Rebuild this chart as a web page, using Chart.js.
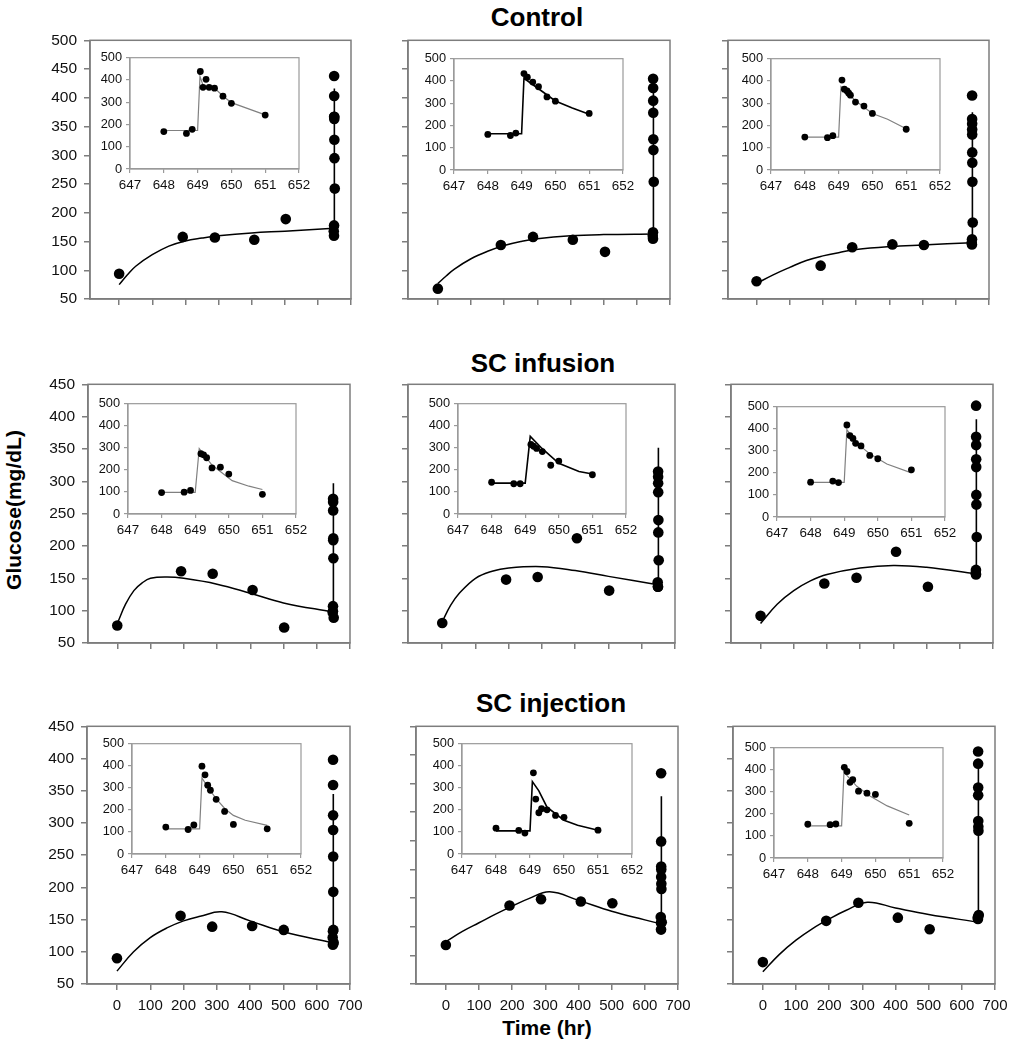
<!DOCTYPE html>
<html>
<head>
<meta charset="utf-8">
<title>Glucose profiles</title>
<script src="https://cdn.jsdelivr.net/npm/chart.js@4.4.1/dist/chart.umd.min.js"></script>
<style>
    body { margin: 0; background: #fff; }
    #page { position: relative; width: 1021px; height: 1050px; overflow: hidden; font-family: "Liberation Sans", Arial, sans-serif; color: #000; }
    #page canvas { position: absolute; }
    .title { position: absolute; font-weight: bold; font-size: 26px; transform: translate(-50%, -50%); white-space: nowrap; }
    .axis-title { position: absolute; font-weight: bold; font-size: 21px; white-space: nowrap; transform: translate(-50%, -50%); }
    .axis-title.vert { transform: translate(-50%, -50%) rotate(-90deg); }
</style>
</head>
<body>
<div id="page">
    <div class="title" style="left:537px; top:17px;">Control</div>
    <div class="title" style="left:543px; top:363px;">SC infusion</div>
    <div class="title" style="left:551px; top:703px;">SC injection</div>
    <div class="axis-title vert" style="left:14px; top:510px;">Glucose(mg/dL)</div>
    <div class="axis-title" style="left:547px; top:1028px;">Time (hr)</div>
</div>
<script>
// tick labels
const mainXTicks = [0, 100, 200, 300, 400, 500, 600, 700];
const insetXTicks = [647, 648, 649, 650, 651, 652];
const insetYTicks = [0, 100, 200, 300, 400, 500];
const yTicks500 = [50, 100, 150, 200, 250, 300, 350, 400, 450, 500];
const yTicks450 = [50, 100, 150, 200, 250, 300, 350, 400, 450];
const yTicks0to450 = [0, 50, 100, 150, 200, 250, 300, 350, 400, 450];

// ---- Control ----
const p1ObsT = [0, 192, 289, 408, 503];
const p1ObsG = [94, 158, 157, 153, 189];
const p1CurveT = [0, 25, 50, 100, 150, 200, 250, 300, 400, 500];
const p1CurveG = [75, 92, 107, 127, 142, 151, 156, 160, 165, 168];
const p1SpikeT = [648, 649, 649.07, 649.17, 649.5, 649.75, 650, 651];
const p1SpikeG = [173, 173, 416, 372, 364, 328, 298, 243];
const p1InsetT = [648, 648.67, 648.84, 649.08, 649.16, 649.25, 649.34, 649.5, 649.75, 650, 651];
const p1InsetG = [168, 160, 178, 438, 367, 403, 367, 363, 327, 295, 242];

const p2ObsT = [0, 190, 287, 407, 504];
const p2ObsG = [68, 144, 158, 153, 132];
const p2CurveT = [0, 25, 50, 100, 150, 200, 250, 300, 400, 500];
const p2CurveG = [77, 90, 102, 120, 133, 143, 150, 155, 160, 162];
const p2SpikeT = [648, 649, 649.07, 649.5, 650, 650.5, 651];
const p2SpikeG = [163, 163, 412, 365, 310, 278, 250];
const p2InsetT = [648, 648.67, 648.83, 649.07, 649.17, 649.33, 649.5, 649.75, 650, 651];
const p2InsetG = [160, 155, 166, 433, 417, 395, 374, 328, 309, 254];

const p3ObsT = [0, 193, 288, 409, 504];
const p3ObsG = [81, 108, 140, 145, 144];
const p3CurveT = [0, 50, 100, 150, 200, 250, 300, 400, 500];
const p3CurveG = [77, 92, 105, 117, 125, 131, 136, 141, 144];
const p3SpikeT = [648, 649, 649.07, 649.5, 650, 650.45, 651];
const p3SpikeG = [148, 148, 375, 311, 254, 228, 185];
const p3InsetT = [648, 648.67, 648.83, 649.1, 649.17, 649.25, 649.3, 649.35, 649.5, 649.75, 650, 651];
const p3InsetG = [148, 145, 154, 404, 363, 355, 345, 336, 305, 287, 254, 183];

// ---- SC infusion ----
const p4ObsT = [0, 192, 287, 407, 502];
const p4ObsG = [77, 161, 157, 132, 74];
const p4CurveT = [0, 25, 50, 75, 100, 150, 200, 300, 400, 500];
const p4CurveG = [80, 110, 131, 143, 150, 152, 150, 141, 127, 112];
const p4SpikeT = [648, 649, 649.12, 649.5, 650.1, 650.6, 651];
const p4SpikeG = [98, 98, 297, 222, 151, 126, 111];
const p4InsetT = [648, 648.67, 648.86, 649.17, 649.25, 649.34, 649.5, 649.75, 650, 651];
const p4InsetG = [97, 99, 107, 273, 268, 255, 209, 212, 181, 89];

const p5ObsT = [0, 192, 287, 405, 502];
const p5ObsG = [81, 148, 152, 212, 131];
const p5CurveT = [0, 25, 50, 100, 150, 200, 300, 400, 500];
const p5CurveG = [83, 108, 126, 150, 161, 166, 168, 162, 153];
const p5SpikeT = [648, 649, 649.15, 649.5, 650, 650.6, 651];
const p5SpikeG = [140, 140, 352, 297, 230, 193, 181];
const p5InsetT = [648, 648.66, 648.85, 649.17, 649.25, 649.34, 649.51, 649.76, 650, 651];
const p5InsetG = [144, 137, 137, 315, 307, 297, 283, 221, 240, 178];

const p6ObsT = [0, 192, 289, 408, 504];
const p6ObsG = [92, 142, 151, 191, 137];
const p6CurveT = [0, 50, 100, 150, 200, 300, 400, 500];
const p6CurveG = [80, 110, 131, 146, 156, 166, 170, 167];
const p6SpikeT = [648, 649, 649.08, 649.37, 649.77, 650.27, 651];
const p6SpikeG = [157, 157, 396, 336, 285, 240, 200];
const p6InsetT = [648, 648.66, 648.83, 649.08, 649.17, 649.26, 649.34, 649.5, 649.76, 650, 651];
const p6InsetG = [158, 163, 156, 417, 369, 356, 334, 322, 279, 264, 214];

// ---- SC injection ----
const p7ObsT = [0, 191, 286, 406, 501];
const p7ObsG = [90, 156, 139, 140, 134];
const p7CurveT = [0, 50, 100, 150, 200, 250, 315, 400, 500];
const p7CurveG = [70, 100, 122, 137, 148, 155, 162, 148, 131];
const p7SpikeT = [648, 649, 649.07, 649.25, 649.5, 649.75, 650, 650.35, 651];
const p7SpikeG = [114, 114, 345, 301, 249, 205, 175, 153, 130];
const p7InsetT = [648, 648.66, 648.83, 649.07, 649.16, 649.24, 649.32, 649.49, 649.74, 650, 651];
const p7InsetG = [122, 111, 132, 398, 359, 312, 289, 248, 193, 134, 114];

const p8ObsT = [0, 192, 287, 407, 502];
const p8ObsG = [68, 137, 148, 144, 141];
const p8CurveT = [0, 50, 100, 150, 200, 250, 313, 400, 500, 600];
const p8CurveG = [74, 92, 107, 122, 136, 149, 161, 146, 127, 112];
const p8SpikeT = [648, 649, 649.07, 649.26, 649.5, 650, 650.4, 651];
const p8SpikeG = [105, 105, 328, 286, 212, 153, 130, 108];
const p8InsetT = [648, 648.67, 648.85, 649.1, 649.17, 649.26, 649.34, 649.5, 649.75, 650, 651];
const p8InsetG = [117, 107, 95, 368, 249, 187, 205, 200, 175, 166, 108];

const p9ObsT = [0, 191, 288, 407, 503];
const p9ObsG = [84, 148, 176, 153, 135];
const p9CurveT = [0, 50, 100, 150, 200, 250, 315, 400, 500];
const p9CurveG = [69, 96, 118, 136, 151, 164, 177, 168, 158];
const p9SpikeT = [648, 649, 649.07, 649.45, 649.85, 650.35, 651];
const p9SpikeG = [146, 146, 389, 325, 280, 236, 195];
const p9InsetT = [648, 648.66, 648.83, 649.08, 649.16, 649.25, 649.33, 649.5, 649.75, 650, 651];
const p9InsetG = [153, 151, 154, 411, 392, 343, 355, 303, 294, 288, 157];

Chart.defaults.font.family = '"Liberation Sans", Arial, sans-serif';
Chart.defaults.color = '#111';

// box = plot area [left, top, width, height] on the page
const panels = [
    { box: [90, 36, 261, 263], inset: [130, 56, 169, 113], xMin: -88, yTicks: yTicks500, obs: [p1ObsT, p1ObsG], curve: [p1CurveT, p1CurveG], spike: [p1SpikeT, p1SpikeG], pts: [p1InsetT, p1InsetG] },
    { box: [408, 36, 262, 263], inset: [454, 57, 169, 113], xMin: -90, yTicks: yTicks500, obs: [p2ObsT, p2ObsG], curve: [p2CurveT, p2CurveG], spike: [p2SpikeT, p2SpikeG], pts: [p2InsetT, p2InsetG] },
    { box: [728, 36, 261, 263], inset: [771, 57, 169, 113], xMin: -86, yTicks: yTicks500, obs: [p3ObsT, p3ObsG], curve: [p3CurveT, p3CurveG], spike: [p3SpikeT, p3SpikeG], pts: [p3InsetT, p3InsetG] },
    { box: [88, 380, 262, 263], inset: [128, 402, 168, 112], xMin: -88, yTicks: yTicks450, obs: [p4ObsT, p4ObsG], curve: [p4CurveT, p4CurveG], spike: [p4SpikeT, p4SpikeG], pts: [p4InsetT, p4InsetG] },
    { box: [408, 380, 267, 263], inset: [458, 402, 168, 112], xMin: -103, yTicks: yTicks450, obs: [p5ObsT, p5ObsG], curve: [p5CurveT, p5CurveG], spike: [p5SpikeT, p5SpikeG], pts: [p5InsetT, p5InsetG] },
    { box: [731, 380, 262, 263], inset: [777, 405, 168, 112], xMin: -89, yTicks: yTicks450, obs: [p6ObsT, p6ObsG], curve: [p6CurveT, p6CurveG], spike: [p6SpikeT, p6SpikeG], pts: [p6InsetT, p6InsetG] },
    { box: [87, 722, 263, 262], inset: [132, 742, 169, 112], xMin: -90, yTicks: yTicks450, obs: [p7ObsT, p7ObsG], curve: [p7CurveT, p7CurveG], spike: [p7SpikeT, p7SpikeG], pts: [p7InsetT, p7InsetG] },
    { box: [416, 722, 262, 262], inset: [462, 742, 170, 112], xMin: -90, yTicks: yTicks0to450, obs: [p8ObsT, p8ObsG], curve: [p8CurveT, p8CurveG], spike: [p8SpikeT, p8SpikeG], pts: [p8InsetT, p8InsetG] },
    { box: [733, 722, 262, 262], inset: [774, 746, 169, 112], xMin: -90, yTicks: yTicks450, obs: [p9ObsT, p9ObsG], curve: [p9CurveT, p9CurveG], spike: [p9SpikeT, p9SpikeG], pts: [p9InsetT, p9InsetG] }
];

// plot frame (top and right sides too)
const framePlugin = {
    id: 'frame',
    beforeDatasetsDraw(chart, args, opts)
    {
        const { ctx, chartArea: a } = chart;
        ctx.save();
        ctx.strokeStyle = opts.color;
        ctx.lineWidth = opts.width;
        ctx.strokeRect(a.left, a.top, a.right - a.left, a.bottom - a.top);
        ctx.restore();
    }
};

function toPts(t, g)
{
    return t.map((x, i) => ({ x: x, y: g[i] }));
}

function makeCanvas(left, top, w, h)
{
    const cv = document.createElement('canvas');
    cv.width = w;
    cv.height = h;
    cv.style.left = left + 'px';
    cv.style.top = top + 'px';
    cv.style.width = w + 'px';
    cv.style.height = h + 'px';
    document.getElementById('page').appendChild(cv);
    return cv;
}

function axisStyle(color, width, tickLen)
{
    return {
        grid: { drawOnChartArea: false, drawTicks: true, tickLength: tickLen, color: color, lineWidth: width },
        border: { display: true, color: color, width: width }
    };
}

function drawMain(p, row, col)
{
    const [L, T, W, H] = p.box;
    const padL = 55, padT = 12, padR = 22, padB = 40;
    const cv = makeCanvas(L - padL, T - padT, W + padL + padR, H + padT + padB);
    const gray = '#7d7d7d';
    const yt = p.yTicks;

    // long-term fit joins the start of the 648-651 hr model, which shows as a vertical stroke
    const curveT = p.curve[0].concat([p.spike[0][0]]);
    const curveG = p.curve[1].concat([p.spike[1][0]]);

    new Chart(cv, {
        type: 'scatter',
        data: {
            datasets: [
                {
                    data: toPts(p.obs[0].concat(p.pts[0]), p.obs[1].concat(p.pts[1])),
                    backgroundColor: '#000', borderColor: '#000', pointRadius: 5.3, pointBorderWidth: 0
                },
                {
                    type: 'line',
                    data: toPts(curveT, curveG),
                    borderColor: '#000', borderWidth: 1.5, pointRadius: 0, fill: false, tension: 0.4
                },
                {
                    type: 'line',
                    data: toPts(p.spike[0], p.spike[1]),
                    borderColor: '#000', borderWidth: 1.6, pointRadius: 0, fill: false, tension: 0
                }
            ]
        },
        options: {
            responsive: false,
            animation: false,
            events: [],
            layout: { padding: { top: padT, right: padR, left: 0, bottom: 0 } },
            plugins: {
                legend: { display: false },
                tooltip: { enabled: false },
                frame: { color: gray, width: 1.5 }
            },
            scales: {
                x: Object.assign({
                    type: 'linear', min: p.xMin, max: 700,
                    afterBuildTicks: s => { s.ticks = mainXTicks.map(v => ({ value: v })); },
                    afterFit: s => { s.height = padB; },
                    ticks: {
                        autoSkip: false, maxRotation: 0, padding: 7, color: '#111', font: { size: 15 },
                        callback: v => (row === 2 ? String(v) : '')
                    }
                }, axisStyle(gray, 1.5, 6)),
                y: Object.assign({
                    type: 'linear', min: yt[0], max: yt[yt.length - 1],
                    afterBuildTicks: s => { s.ticks = yt.map(v => ({ value: v })); },
                    afterFit: s => { s.width = padL; },
                    ticks: {
                        autoSkip: false, padding: 7, color: '#111', font: { size: 15.5 },
                        callback: v => (col === 0 ? String(v) : '')
                    }
                }, axisStyle(gray, 1.5, 6))
            }
        },
        plugins: [framePlugin]
    });
}

function drawInset(p, col)
{
    const [L, T, W, H] = p.inset;
    const padL = 42, padT = 10, padR = 16, padB = 28;
    const cv = makeCanvas(L - padL, T - padT, W + padL + padR, H + padT + padB);
    const gray = '#9a9a9a';
    // middle column draws its model line in black
    const lineColor = col === 1 ? '#000' : '#808080';

    new Chart(cv, {
        type: 'scatter',
        data: {
            datasets: [
                {
                    data: toPts(p.pts[0], p.pts[1]),
                    backgroundColor: '#000', borderColor: '#000', pointRadius: 3.4, pointBorderWidth: 0
                },
                {
                    type: 'line',
                    data: toPts(p.spike[0], p.spike[1]),
                    borderColor: lineColor, borderWidth: col === 1 ? 1.6 : 1.2, pointRadius: 0, fill: false, tension: 0
                }
            ]
        },
        options: {
            responsive: false,
            animation: false,
            events: [],
            layout: { padding: { top: padT, right: padR, left: 0, bottom: 0 } },
            plugins: {
                legend: { display: false },
                tooltip: { enabled: false },
                frame: { color: gray, width: 1.2 }
            },
            scales: {
                x: Object.assign({
                    type: 'linear', min: insetXTicks[0], max: insetXTicks[insetXTicks.length - 1],
                    afterBuildTicks: s => { s.ticks = insetXTicks.map(v => ({ value: v })); },
                    afterFit: s => { s.height = padB; },
                    ticks: { autoSkip: false, maxRotation: 0, padding: 4, color: '#111', font: { size: 13.4 } }
                }, axisStyle(gray, 1.2, 4)),
                y: Object.assign({
                    type: 'linear', min: insetYTicks[0], max: insetYTicks[insetYTicks.length - 1],
                    afterBuildTicks: s => { s.ticks = insetYTicks.map(v => ({ value: v })); },
                    afterFit: s => { s.width = padL; },
                    ticks: { autoSkip: false, padding: 4, color: '#111', font: { size: 12.8 } }
                }, axisStyle(gray, 1.2, 4))
            }
        },
        plugins: [framePlugin]
    });
}

panels.forEach((p, i) =>
{
    const row = Math.floor(i / 3), col = i % 3;
    drawMain(p, row, col);
    drawInset(p, col);
});
</script>
</body>
</html>
